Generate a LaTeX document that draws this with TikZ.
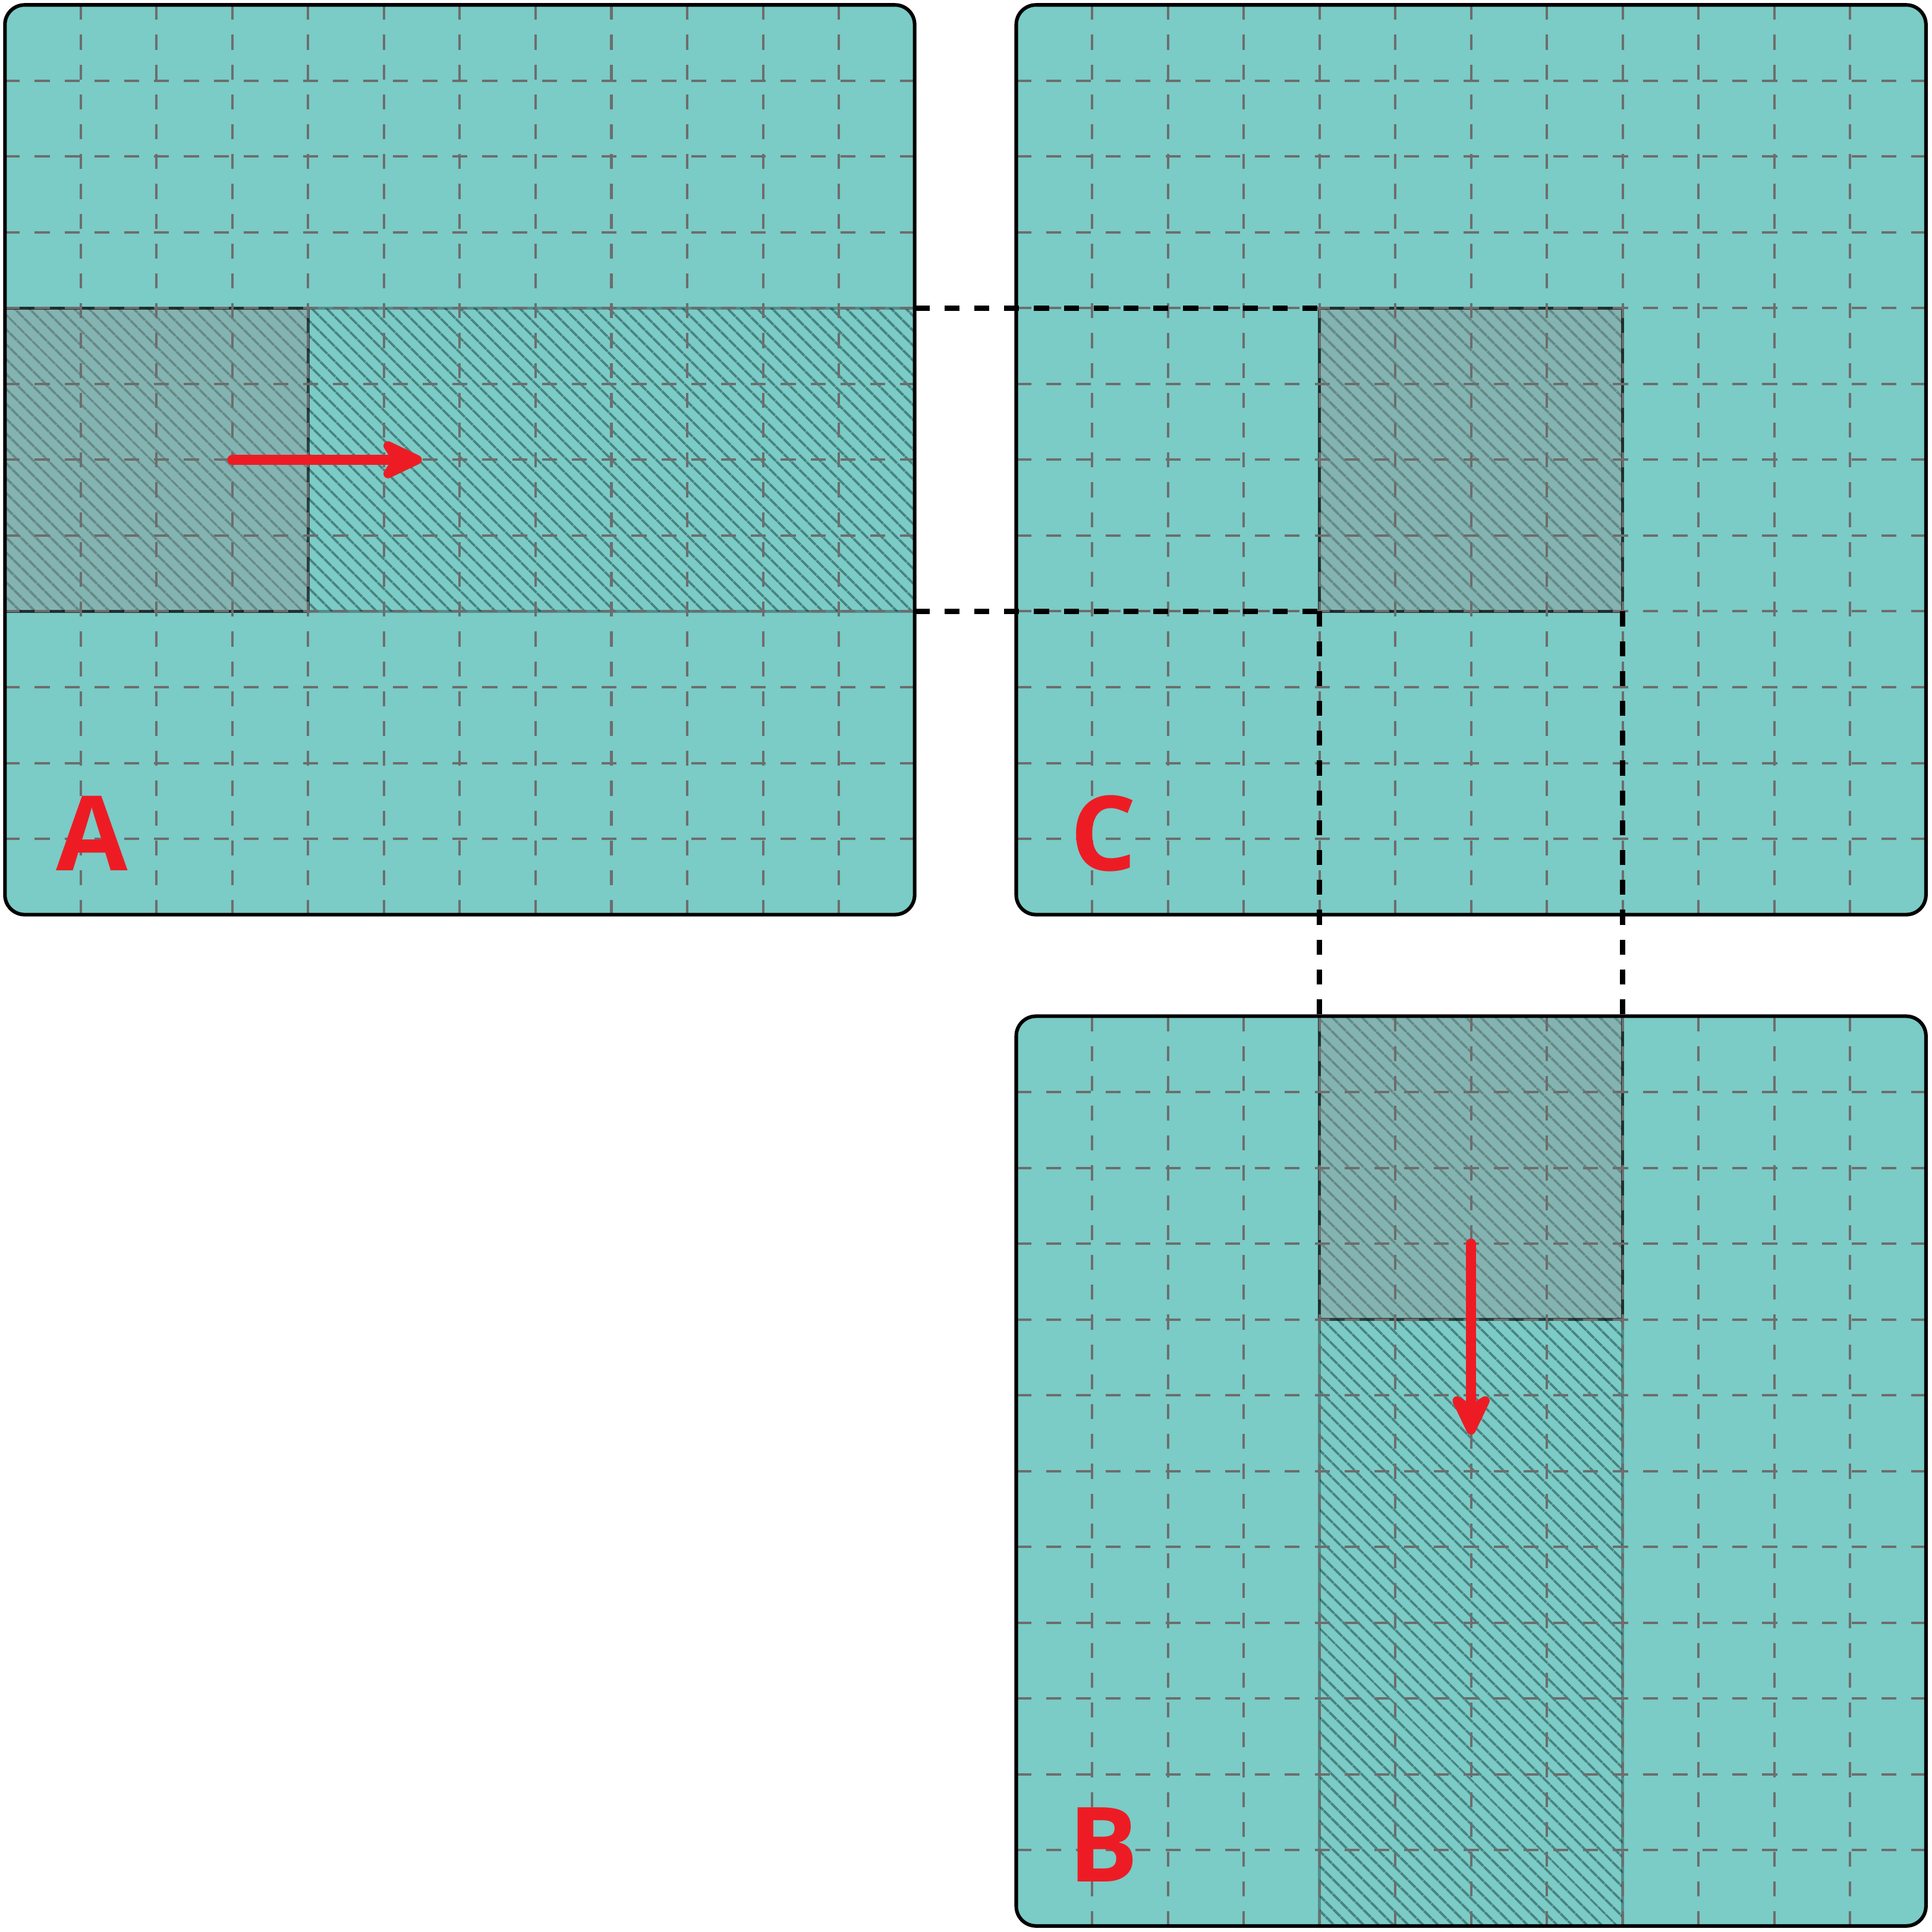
\documentclass[tikz,border=0pt]{standalone}
\usepackage{fontspec}
\newfontfamily\lblfont{Open Sans}
\usepackage{tikz}
\usetikzlibrary{patterns.meta}
\usetikzlibrary{positioning}
\usetikzlibrary{arrows.meta}

\definecolor{mtxteal}{RGB}{123,203,198}
\definecolor{lblred}{RGB}{237,28,36}
\definecolor{gridgray}{RGB}{109,109,109}
\definecolor{hatchc}{RGB}{70,132,129}
\definecolor{shadegray}{RGB}{147,147,147}

\begin{document}
\begin{tikzpicture}[
  mbox/.style={rectangle,fill=mtxteal,minimum width=12cm,minimum height=12cm,inner sep=0,outer sep=0,rounded corners=0.26cm},
  rim/.style={black,line width=1.35pt,rounded corners=0.26cm},
  band/.style={rectangle,inner sep=0,outer sep=0,anchor=north west,pattern={Lines[angle=-45,distance=4pt,line width=1pt]},pattern color=hatchc,draw=black,draw opacity=0.3,line width=1.2pt},
  blk/.style={rectangle,inner sep=0,outer sep=0,anchor=north west,minimum width=4cm,minimum height=4cm,fill=shadegray,fill opacity=0.4,draw=black,draw opacity=0.65,line width=1.2pt},
  gridline/.style={gridgray,line width=0.9pt,dash pattern=on 5.6pt off 5.6pt},
  link/.style={black,line width=2pt,dash pattern=on 5.6pt off 5.6pt},
  move/.style={lblred,line width=3.8pt,line cap=round,-{Stealth[length=0.68cm,width=0.64cm,inset=0.2cm,round]}},
  lbl/.style={text=lblred,inner sep=0,font=\lblfont\bfseries\fontsize{39}{39}\selectfont}
]
\useasboundingbox (-0.065,-0.08) rectangle (25.42,25.405);

% the three matrices
\node[mbox] (A) at (6,19.34) {};
\node[mbox,right=1.34cm of A] (C) {};
\node[mbox,below=1.34cm of C] (B) {};

% hatched row, column and block
\node[band,minimum width=12cm,minimum height=4cm] (Aband) at ([yshift=-4cm]A.north west) {};
\node[band,minimum width=4cm,minimum height=12cm] (Bband) at ([xshift=4cm]B.north west) {};
\node[band,minimum width=4cm,minimum height=4cm] (Cband) at ([shift={(4cm,-4cm)}]C.north west) {};

\node[blk] (Ablk) at (Aband.north west) {};
\node[blk] (Bblk) at (Bband.north west) {};
\node[blk] (Cblk) at (Cband.north west) {};

% grid
\foreach \m in {A,B,C} {
  \foreach \i in {1,...,11} {
    \draw[gridline] ([xshift=\i cm]\m.north west) -- ([xshift=\i cm]\m.south west);
    \draw[gridline] ([yshift=-\i cm]\m.north west) -- ([yshift=-\i cm]\m.north east);
  }
}

\foreach \m in {A,B,C}
  \draw[rim] (\m.south west) rectangle (\m.north east);

% dashed guides
\draw[link] (Aband.north east) -- (Cblk.north west);
\draw[link] (Aband.south east) -- (Cblk.south west);
\draw[link] (Cblk.south west) -- (Bband.north west);
\draw[link] (Cblk.south east) -- (Bband.north east);

% moves
\coordinate (Amove0) at ([shift={(3cm,-6cm)}]A.north west);
\coordinate (Amove1) at ([shift={(5.5cm,-6cm)}]A.north west);
\coordinate (Bmove0) at ([shift={(6cm,-3cm)}]B.north west);
\coordinate (Bmove1) at ([shift={(6cm,-5.52cm)}]B.north west);
\draw[move] (Amove0) -- (Amove1);
\draw[move] (Bmove0) -- (Bmove1);

% labels
\node[lbl] (Alab) at ([shift={(1.15cm,1.07cm)}]A.south west) {A};
\node[lbl] (Clab) at ([shift={(1.15cm,1.07cm)}]C.south west) {C};
\node[lbl] (Blab) at ([shift={(1.15cm,1.07cm)}]B.south west) {B};

\end{tikzpicture}
\end{document}
